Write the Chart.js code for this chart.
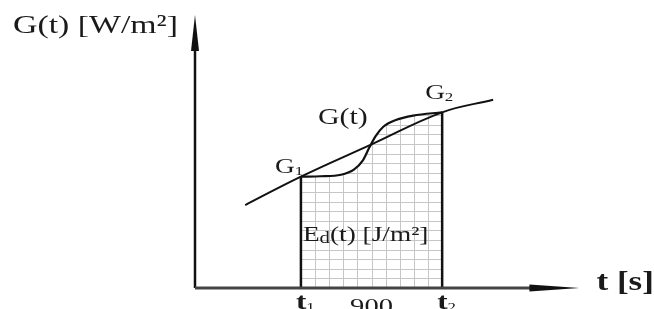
<!DOCTYPE html>
<html>
<head>
<meta charset="utf-8" />
<title>G(t)</title>
<script src="https://cdn.jsdelivr.net/npm/chart.js"></script>
<style>
    body { margin: 0; background: #fff; }
    #chart { display: block; }
</style>
</head>
<body>
<canvas id="chart" width="654" height="309"></canvas>
<script>
    // time in s, irradiance in W/m2
    const tMax = 2925, gMax = 1500;
    const tAxisEnd = 2450, gAxisEnd = 1422;
    const t1 = 675, t2 = 1575;
    const G1 = 580, G2 = 915;
    const gridStepT = 90, gridStepG = 50;

    // long (almost straight) curve through G1 and G2
    const lineT = [320, 675, 1125, 1575, 1900];
    const lineG = [432, 580, 748, 915, 980];

    // S shaped G(t)
    const curveT = [675, 800, 930, 1010, 1070, 1110, 1150, 1200, 1280, 1390, 1575];
    const curveG = [580, 582, 590, 615, 665, 730, 790, 840, 875, 898, 915];

    const pts = (ts, gs) => ts.map((t, i) => ({ x: t, y: gs[i] }));
    const ink = '#111';
    const serif = '"Liberation Serif", "DejaVu Serif", serif';
    const sx = 1.3; // the picture is stretched sideways

    function txt(ctx, s, x, y, size, bold) {
        ctx.save();
        ctx.font = (bold ? 'bold ' : '') + size + 'px ' + serif;
        ctx.translate(x, y);
        ctx.scale(sx, 1);
        ctx.fillText(s, 0, 0);
        const w = ctx.measureText(s).width * sx;
        ctx.restore();
        return x + w;
    }

    const sketch = {
        id: 'sketch',
        beforeDatasetsDraw(chart) {
            const ctx = chart.ctx, xs = chart.scales.x, ys = chart.scales.y;
            const meta = chart.getDatasetMeta(3);
            if (meta.dataset.updateControlPoints) meta.dataset.updateControlPoints(chart.chartArea, 'x');
            const p = meta.data;
            const y0 = ys.getPixelForValue(0);
            ctx.save();
            ctx.beginPath();
            ctx.moveTo(p[0].x, y0);
            ctx.lineTo(p[0].x, p[0].y);
            for (let i = 1; i < p.length; i++) {
                const a = p[i - 1], b = p[i];
                if (a.cp2x !== undefined && b.cp1x !== undefined)
                    ctx.bezierCurveTo(a.cp2x, a.cp2y, b.cp1x, b.cp1y, b.x, b.y);
                else ctx.lineTo(b.x, b.y);
            }
            ctx.lineTo(p[p.length - 1].x, y0);
            ctx.closePath();
            ctx.clip();
            ctx.strokeStyle = '#c6c6c6';
            ctx.lineWidth = 1;
            ctx.beginPath();
            for (let t = t1 + gridStepT; t < t2; t += gridStepT) {
                const x = Math.round(xs.getPixelForValue(t)) + 0.5;
                ctx.moveTo(x, y0);
                ctx.lineTo(x, 0);
            }
            for (let g = gridStepG; g < gMax; g += gridStepG) {
                const y = Math.round(ys.getPixelForValue(g)) + 0.5;
                ctx.moveTo(xs.getPixelForValue(t1), y);
                ctx.lineTo(xs.getPixelForValue(t2), y);
            }
            ctx.stroke();
            ctx.restore();
        },
        afterDatasetsDraw(chart) {
            const ctx = chart.ctx, xs = chart.scales.x, ys = chart.scales.y;
            const ox = xs.getPixelForValue(0), oy = ys.getPixelForValue(0);
            const ax = xs.getPixelForValue(tAxisEnd), ay = ys.getPixelForValue(gAxisEnd);
            ctx.save();
            ctx.fillStyle = ink;
            // arrow heads
            ctx.beginPath();
            ctx.moveTo(ox, ay);
            ctx.lineTo(ox + 4, ay + 36);
            ctx.lineTo(ox - 4, ay + 36);
            ctx.closePath();
            ctx.fill();
            ctx.beginPath();
            ctx.moveTo(ax, oy);
            ctx.lineTo(ax - 50, oy - 3.5);
            ctx.lineTo(ax - 50, oy + 3.5);
            ctx.closePath();
            ctx.fill();

            // labels
            ctx.textBaseline = 'alphabetic';
            ctx.fillStyle = '#1a1a1a';
            ctx.save();
            ctx.font = '26px ' + serif;
            const yl = 'G(t) [W/m²]';
            const wl = ctx.measureText(yl).width * sx;
            ctx.restore();
            txt(ctx, yl, ox - 17 - wl, 33, 26, false);
            txt(ctx, 't [s]', ax + 17, oy + 2, 27, true);

            const p1x = xs.getPixelForValue(t1), p1y = ys.getPixelForValue(G1);
            const p2x = xs.getPixelForValue(t2), p2y = ys.getPixelForValue(G2);
            let e = txt(ctx, 'G', p1x - 26, p1y - 4, 21, false);
            txt(ctx, '1', e, p1y - 2, 13, false);
            e = txt(ctx, 'G', p2x - 17, p2y - 13, 21, false);
            txt(ctx, '2', e, p2y - 11, 13, false);

            txt(ctx, 'G(t)', p1x + 17, ys.getPixelForValue(854), 23, false);

            e = txt(ctx, 'E', p1x + 2, oy - 47, 21, false);
            e = txt(ctx, 'd', e, oy - 45, 16, false);
            txt(ctx, '(t) [J/m²]', e, oy - 47, 21, false);

            e = txt(ctx, 't', p1x - 5, oy + 21, 24, true);
            txt(ctx, '1', e, oy + 23, 13, false);
            e = txt(ctx, 't', p2x - 5, oy + 21, 24, true);
            txt(ctx, '2', e, oy + 23, 13, false);
            ctx.save();
            ctx.font = '22px ' + serif;
            const w9 = ctx.measureText(String(t2 - t1)).width * sx;
            ctx.restore();
            txt(ctx, String(t2 - t1), (p1x + p2x) / 2 - w9 / 2, oy + 25, 22, false);
            ctx.restore();
        }
    };

    const lineStyle = (w, color) => ({
        borderColor: color || ink, borderWidth: w, pointRadius: 0, fill: false, clip: false
    });

    new Chart(document.getElementById('chart'), {
        type: 'line',
        data: {
            datasets: [
                Object.assign({ data: pts([0, tAxisEnd - 300], [0, 0]) }, lineStyle(3, '#444')),
                Object.assign({ data: pts([0, 0], [0, gAxisEnd - 150]) }, lineStyle(2.5)),
                Object.assign({ data: pts(lineT, lineG), tension: 0.4 }, lineStyle(2)),
                Object.assign({ data: pts(curveT, curveG), cubicInterpolationMode: 'monotone' }, lineStyle(2.2)),
                Object.assign({ data: pts([t1, t1], [0, G1]) }, lineStyle(2.5)),
                Object.assign({ data: pts([t2, t2], [0, G2]) }, lineStyle(2.5))
            ]
        },
        options: {
            responsive: false,
            animation: false,
            devicePixelRatio: 1,
            layout: { padding: { left: 195, right: 0, top: 0, bottom: 21 } },
            plugins: { legend: { display: false }, tooltip: { enabled: false } },
            scales: {
                x: { type: 'linear', min: 0, max: tMax, display: false },
                y: { type: 'linear', min: 0, max: gMax, display: false }
            }
        },
        plugins: [sketch]
    });
</script>
</body>
</html>
